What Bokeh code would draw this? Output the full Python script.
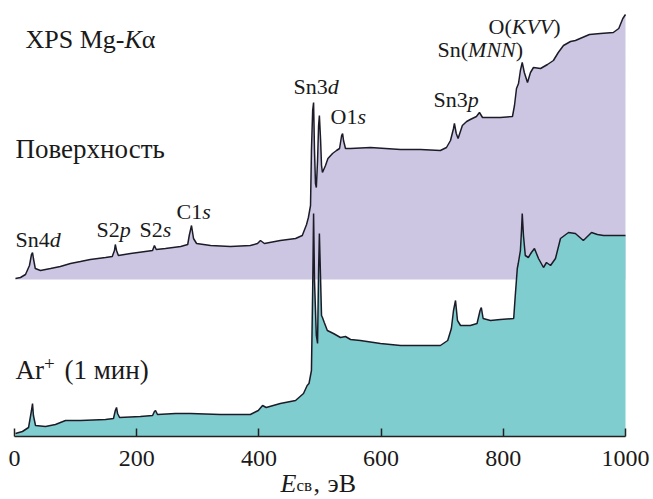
from bokeh.plotting import figure
from bokeh.models import Range1d, Label, FixedTicker, LinearAxis
from bokeh.embed import file_html
from bokeh.resources import INLINE

# ---- data (binding energy, eV; intensity, arb. units) ----
surface_energy = [1.6, 9.8, 18, 24.5, 27.8, 29.5, 31, 34, 42.5, 59, 75, 91.6, 108, 124, 149, 160,
                  163.6, 165, 167, 170, 190, 214, 226, 229, 232, 247, 272, 283.5, 286, 289.7, 293,
                  298, 321, 353.5, 386, 397.7, 402.6, 409, 435, 460, 471, 478, 481, 484.5, 486, 488,
                  489.5, 491, 492.6, 494, 496, 497.7, 499, 501, 502.5, 504, 509, 513, 520.5, 527,
                  532, 535.4, 537, 538.5, 541.7, 550, 582.6, 631.8, 664.5, 697, 707, 713.6, 718.5,
                  720, 723, 726, 733, 740, 746, 756, 761, 766, 779, 795, 815, 818.3, 821.6, 824.9,
                  828, 831, 834.4, 839.6, 844.5, 849.4, 861, 872.3, 882, 890, 898.5, 910, 918, 941,
                  959, 980, 989, 995.6, 1000]
surface_counts = [1, 2, 5, 14, 25, 27, 21, 11, 9, 11, 13, 16, 18, 20, 22, 23,
                  29, 35, 29, 24, 26, 28, 29, 34, 30, 31, 33, 35, 44, 54, 41,
                  36, 34, 33, 34, 36, 39, 36, 39, 41, 44, 55, 62, 74, 129, 169,
                  177, 129, 96, 92, 119, 154, 164, 139, 114, 107, 114, 121, 126, 129,
                  131, 144, 146, 139, 131, 131, 132, 130, 130, 129, 132, 139, 151,
                  156, 146, 141, 154, 158, 160, 163, 167, 162, 162, 162, 163, 174, 191, 196,
                  209, 217, 207, 197, 207, 212, 211, 215, 219, 227, 234, 238, 239, 245,
                  246, 247, 251, 261, 265]

sputter_energy = [1.6, 13, 23, 27.8, 29.5, 31, 34.4, 50.7, 67, 83.5, 108, 149, 162, 165, 167,
                  168.7, 172, 206, 226, 229, 230.8, 234, 263.5, 288, 337, 386, 399, 406, 412,
                  435, 460, 473, 479, 482, 486, 488, 489.5, 491, 494, 496, 497.7, 499, 501,
                  502.5, 504, 507, 512, 522, 533.5, 541.7, 550, 566, 599, 632, 697, 709, 715,
                  718.5, 721.8, 725, 730, 746, 757, 762, 764, 767, 779, 795, 817, 819.6, 822.9,
                  824.5, 828, 829.8, 831, 833, 836, 841, 846, 851, 857.6, 865.8, 870.7, 877.3,
                  885.4, 893.6, 906.7, 918, 931, 944.4, 954, 964, 983, 1000]
sputter_counts = [3, 5, 9, 26, 33, 21, 11, 10, 12, 16, 16, 17, 18, 26, 29,
                  23, 19, 20, 21, 25, 26, 22, 23, 23, 22, 22, 26, 31, 29,
                  33, 36, 43, 51, 53, 66, 146, 223, 156, 101, 93, 166, 203, 156,
                  121, 119, 114, 106, 103, 99, 100, 97, 96, 93, 91, 91, 96, 108,
                  126, 136, 116, 111, 111, 113, 126, 129, 118, 116, 117, 118, 141, 168,
                  173, 186, 206, 223, 201, 181, 179, 184, 188, 178, 169, 174, 171,
                  178, 198, 204, 203, 196, 204, 202, 201, 201, 201]

surface_offset = 157          # vertical shift of the upper spectrum
x_ticks = [0, 200, 400, 600, 800, 1000]

# ---- figure (frame covers whole canvas; axis fixed at y = 0) ----
SERIF = "Liberation Serif"
W, H = 653, 499
X0_PX, X1000_PX, Y0_PX = 14, 625, 436
SCALE = (X1000_PX - X0_PX) / 1000.0
p = figure(width=W, height=H, output_backend="svg", toolbar_location=None,
           x_range=Range1d(-X0_PX / SCALE, (W - X0_PX) / SCALE),
           y_range=Range1d(-(H - Y0_PX), Y0_PX),
           x_axis_location=None, y_axis_location=None,
           min_border_left=0, min_border_right=0, min_border_top=0, min_border_bottom=0)
p.outline_line_color = None
p.grid.visible = False
p.background_fill_color = "white"
p.border_fill_color = "white"

top_y = [c + surface_offset for c in surface_counts]
p.varea(x=surface_energy, y1=[surface_offset] * len(surface_energy), y2=top_y,
        fill_color="#ccc6e2", fill_alpha=1.0)
p.line(surface_energy, top_y, line_color="#1c1c28", line_width=1.5)

p.varea(x=sputter_energy, y1=[0] * len(sputter_energy), y2=sputter_counts,
        fill_color="#80cdd0", fill_alpha=1.0)
p.line(sputter_energy, sputter_counts, line_color="#1c1c28", line_width=1.5)

ax = LinearAxis(fixed_location=0, bounds=(x_ticks[0], x_ticks[-1]))
ax.ticker = FixedTicker(ticks=x_ticks)
ax.major_tick_in = 8
ax.major_tick_out = 0
ax.minor_tick_in = 0
ax.minor_tick_out = 0
ax.axis_line_width = 1.5
ax.major_tick_line_width = 1.5
ax.axis_line_color = "#222222"
ax.major_tick_line_color = "#222222"
ax.major_label_text_font = SERIF
ax.major_label_text_font_size = "24px"
ax.major_label_text_color = "#1a1a1a"
ax.major_label_standoff = 14
p.add_layout(ax, "below")

# ---- text (Times metrics) ----
W_REG = {" ": .25, "(": .333, ")": .333, "+": .564, ",": .25, "-": .333, "A": .722, "C": .667,
         "E": .611, "K": .722, "M": .889, "N": .722, "O": .722, "P": .556, "S": .556, "X": .722,
         "g": .5, "n": .5, "r": .333, "d": .5, "p": .5, "s": .389}
W_IT = {"d": .5, "p": .5, "s": .389, "K": .667, "M": .833, "N": .667, "V": .611, "E": .611}
BASELINE_FIX = -9   # rendered baseline sits lower than requested


def width(text, italic, size):
    table = W_IT if italic else W_REG
    return sum(table.get(ch, 0.5) for ch in text) * size


def px2x(px):
    return (px - X0_PX) / SCALE


def py2y(py):
    return Y0_PX - py


def seg_label(px, py, parts):
    x = px
    for text, italic, size, dy in parts:
        if isinstance(dy, tuple):
            x, dy = dy
        p.add_layout(Label(x=px2x(x), y=py2y(py + dy + BASELINE_FIX), text=text,
                           text_font=SERIF, text_font_size=f"{size}px",
                           text_font_style="italic" if italic else "normal",
                           text_color="#1a1a1a", text_baseline="alphabetic", text_align="left"))
        x += width(text, italic, size)


F = 22
seg_label(25, 48, [("XPS Mg-", False, 26, 0), ("K", True, 26, 0), ("α", False, 26, 0)])
seg_label(15, 157, [("Поверхность", False, 27, 0)])
seg_label(15, 378, [("Ar", False, 27, 0), ("+", False, 19, -6), ("(1 мин)", False, 27, (64, 0))])
seg_label(15, 248, [("Sn4", False, F, 0), ("d", True, F, 0)])
seg_label(96, 238, [("S2", False, F, 0), ("p", True, F, 0)])
seg_label(139, 238, [("S2", False, F, 0), ("s", True, F, 0)])
seg_label(176, 220, [("C1", False, F, 0), ("s", True, F, 0)])
seg_label(293, 95, [("Sn3", False, F, 0), ("d", True, F, 0)])
seg_label(330, 125, [("O1", False, F, 0), ("s", True, F, 0)])
seg_label(433, 108, [("Sn3", False, F, 0), ("p", True, F, 0)])
seg_label(437, 58, [("Sn(", False, F, 0), ("MNN", True, F, 0), (")", False, F, 0)])
seg_label(488, 35, [("O(", False, F, 0), ("KVV", True, F, 0), (")", False, F, 0)])
seg_label(280, 492, [("E", True, 26, 0), ("св", False, 17, 2), (",", False, 26, 0),
                     ("эВ", False, 26, (327, 0))])

open("out.html", "w").write(file_html(p, INLINE))
